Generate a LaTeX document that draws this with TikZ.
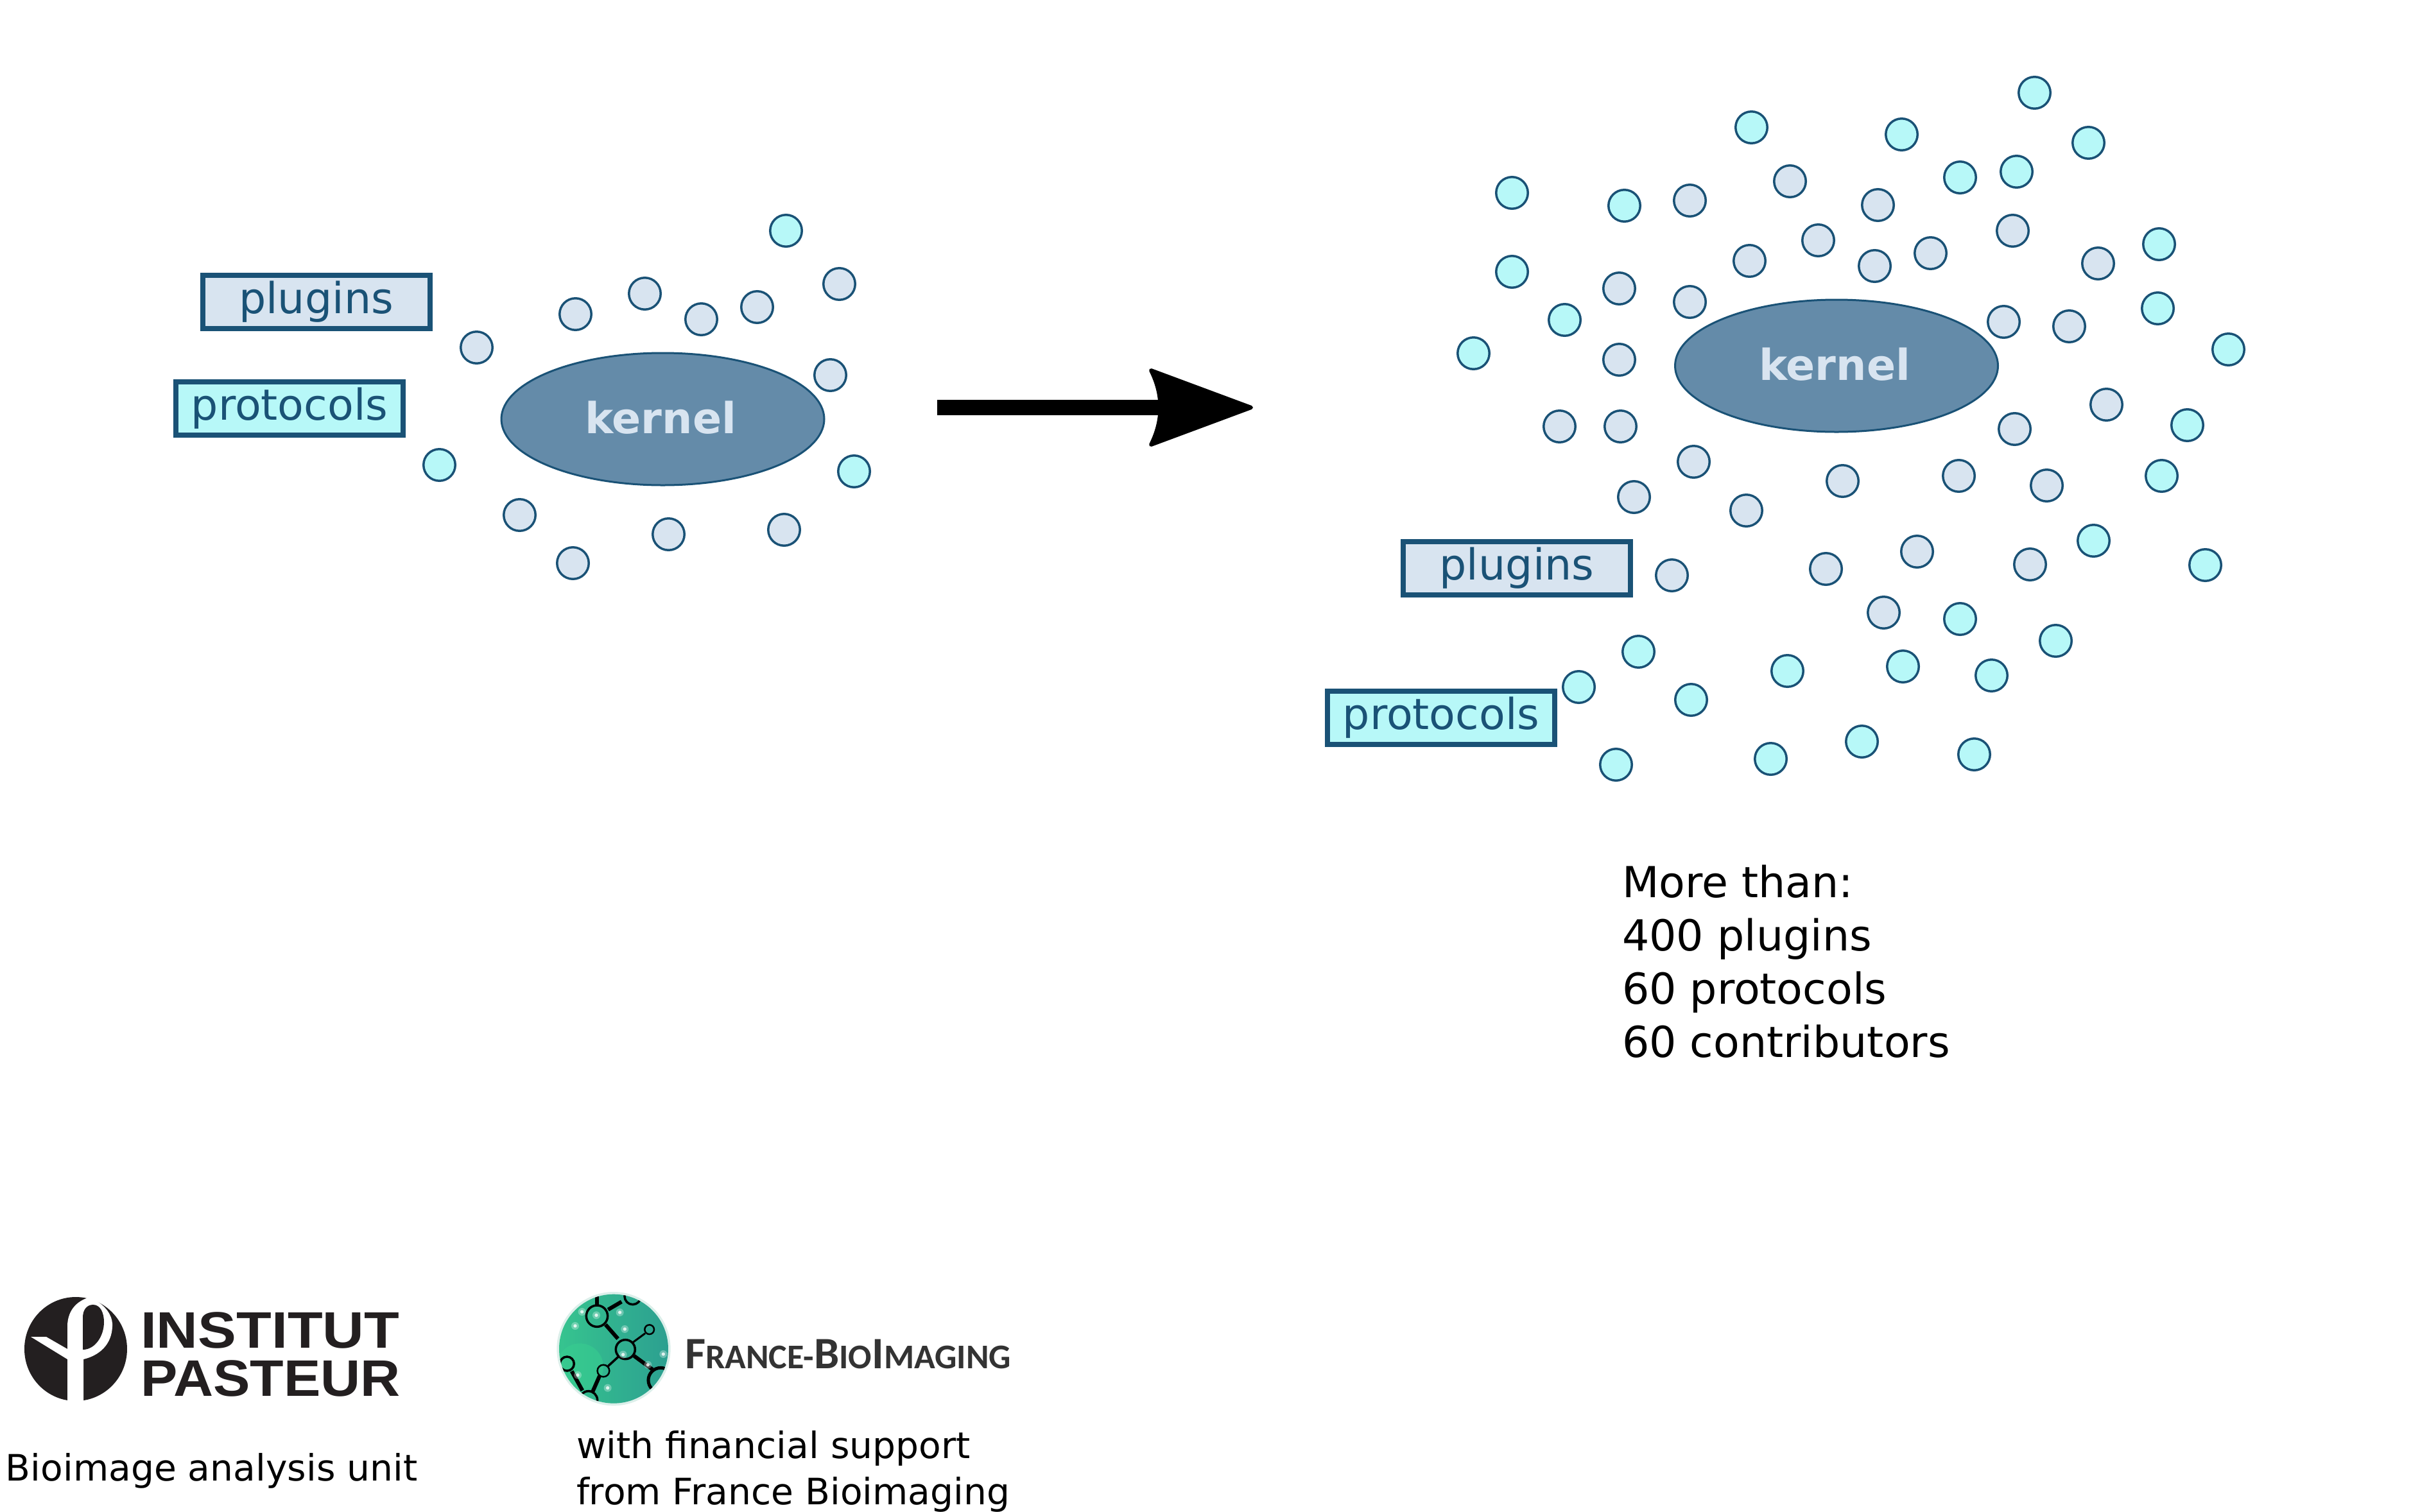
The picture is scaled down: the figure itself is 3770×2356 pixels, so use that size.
\documentclass[tikz,border=0pt]{standalone}
\usepackage{fontspec}
\setmainfont{DejaVu Sans}
\newfontfamily\logofont{Liberation Sans}[BoldFont={Liberation Sans Bold}]
\newfontfamily\fbifont{Carlito}[BoldFont={Carlito Bold}]
\usetikzlibrary{arrows.meta,shapes.geometric}
\definecolor{plugfill}{HTML}{D8E4F0}
\definecolor{protfill}{HTML}{B7F8F8}
\definecolor{edgeblue}{HTML}{1A5276}
\definecolor{kernfill}{HTML}{648BA9}
\definecolor{pasteurdark}{HTML}{231F20}
\definecolor{fbitext}{HTML}{333333}
\definecolor{fbileft}{HTML}{36C48F}
\definecolor{fbiright}{HTML}{2C9F90}
\definecolor{fbipatch}{HTML}{38CF90}
\definecolor{fbiedge}{HTML}{DCEFEA}
\pgfdeclarearrow{
  name=CurvedHead,
  setup code={\pgfarrowssettipend{0pt}\pgfarrowssetlineend{-135pt}\pgfarrowssetvisualbackend{-165pt}\pgfarrowssetbackend{-165pt}},
  drawing code={
    \pgfsetlinewidth{6pt}\pgfsetroundjoin\pgfsetdash{}{0pt}
    \pgfpathmoveto{\pgfpoint{-5pt}{0pt}}
    \pgfpathlineto{\pgfpoint{-161pt}{58pt}}
    \pgfpathquadraticcurveto{\pgfpoint{-132pt}{0pt}}{\pgfpoint{-161pt}{-58pt}}
    \pgfpathclose
    \pgfusepathqfillstroke
  }
}
\tikzset{
  plugdot/.style={circle,draw=edgeblue,fill=plugfill,line width=3.5pt,minimum size=49.5pt,inner sep=0pt},
  protdot/.style={circle,draw=edgeblue,fill=protfill,line width=3.5pt,minimum size=49.5pt,inner sep=0pt},
  kernelnode/.style={ellipse,draw=edgeblue,fill=kernfill,line width=3pt,minimum width=503pt,minimum height=206pt,inner sep=0pt},
  kerneltext/.style={text=plugfill,font=\fontsize{66.6}{80}\selectfont\bfseries},
  plugbox/.style={rectangle,draw=edgeblue,fill=plugfill,line width=8pt,minimum width=354pt,minimum height=83pt,inner sep=0pt,text=edgeblue,font=\fontsize{66.6}{80}\selectfont},
  protbox/.style={plugbox,fill=protfill},
  plain/.style={inner sep=0pt,outer sep=0pt,text=black},
  bondline/.style={draw=black,line width=6pt},
  ringline/.style={draw=black,line width=3.5pt},
  sparkle/.style={fill=white,opacity=.8},
  sparklehalo/.style={fill=white,opacity=.3},
}
\begin{document}
\begin{tikzpicture}[x=1pt,y=-1pt]
\useasboundingbox (0,0) rectangle (3770,2356);

% ---- left cluster
\node[kernelnode] (kernelA) at (1032.5,653) {};
\node[kerneltext,anchor=center] (kernelAtext) at (1029,651) {kernel};
\node[plugbox] (plugA) at (492.5,470) {plugins};
\node[protbox] (protA) at (451,636) {protocols};
\foreach \x/\y [count=\i] in {742/541,896/489,1004/457,1092/497,1179/478,1307/442,1293/584,809/802,892/877,1041/832,1221/825}
  \node[plugdot] (la\i) at (\x+.5,\y+.5) {};
\foreach \x/\y [count=\i] in {1224/359,684/724,1330/734}
  \node[protdot] (lb\i) at (\x+.5,\y+.5) {};

% ---- arrow
\coordinate (arrowstart) at (1460,635);
\coordinate (arrowend) at (1954,635);
\draw[line width=24pt,black,-{CurvedHead}] (arrowstart) -- (arrowend);

% ---- right cluster
\node[kernelnode] (kernelB) at (2861,570) {};
\node[kerneltext,anchor=center] (kernelBtext) at (2858,568) {kernel};
\node[plugbox] (plugB) at (2363,885) {plugins};
\node[protbox] (protB) at (2245,1118.5) {protocols};
\foreach \x/\y [count=\i] in {2632/312,2788/282,2925/319,3135/359,2832/374,2725/406,2920/414,3007/394,3268/410,2522/449,2632/470,3121/501,3223/508,2522/560,2429/664,2524/664,3281/630,3138/668,2638/719,2545/774,2720/795,2870/749,3051/741,3188/756,2604/896,2844/886,2986/859,3162/879,2934/954}
  \node[plugdot] (ra\i) at (\x+.5,\y+.5) {};
\foreach \x/\y [count=\i] in {3169/144,2728/198,2962/209,3253/222,3053/276,3141/267,2355/300,2530/320,3363/380,2355/423,2437/498,3361/480,2295/550,3471/544,3407/662,3367/741,3261/842,3435/880,3053/964,3202/998,2552/1015,2459/1070,2634/1090,2784/1045,2964/1038,3102/1052,2517/1191,2758/1182,2900/1155,3075/1175}
  \node[protdot] (rb\i) at (\x+.5,\y+.5) {};

\node[plain,anchor=north west,align=left,font=\fontsize{66.6}{83}\selectfont] (stats) at (2527,1348)
  {More than:\\400 plugins\\60 protocols\\60 contributors};

% ---- Institut Pasteur logo
\fill[pasteurdark] (118,2102) ellipse [x radius=80,y radius=81];
\fill[white] (105,2186) -- (105,2118) -- (48,2083) -- (72,2083) -- (105,2102) -- (105,2067)
  .. controls (105,2040) and (122,2024) .. (146,2020) -- (152,2028)
  .. controls (170,2040) and (176,2055) .. (175,2067)
  .. controls (174,2095) and (155,2112) .. (130,2118) -- (130,2186) -- cycle;
\fill[pasteurdark] (129,2103) -- (129,2053) .. controls (129,2040) and (136,2033) .. (145,2033)
  .. controls (156,2033) and (162,2045) .. (162,2060) .. controls (162,2082) and (148,2103) .. (129,2103) -- cycle;
\node[plain,anchor=base west,text=pasteurdark,xscale=1.12,font=\fontsize{80}{80}\selectfont\logofont\bfseries] (pasteurA) at (219,2100) {INSTITUT};
\node[plain,anchor=base west,text=pasteurdark,xscale=1.075,font=\fontsize{80}{80}\selectfont\logofont\bfseries] (pasteurB) at (219,2175) {PASTEUR};

\node[plain,anchor=base west,font=\fontsize{56.7}{71}\selectfont] (unit) at (9,2307) {Bioimage analysis unit};

% ---- France-BioImaging logo
\begin{scope}[shift={(820,1990)},x=0.3333pt,y=-0.3333pt]
  \fill[fbiedge] (408,335) circle [radius=266];
  \begin{scope}
    \clip (408,335) circle [radius=255];
    \shade[left color=fbileft,right color=fbiright] (150,70) rectangle (670,600);
    \fill[fbipatch,opacity=.55] (250,420) circle [radius=110];
    \draw[ringline] (330,182) circle [radius=50];
    \draw[ringline] (497,90) circle [radius=38];
    \draw[ringline] (463,338) circle [radius=45];
    \draw[ringline,line width=2.5pt] (575,245) circle [radius=22];
    \draw[ringline,line width=5pt] (628,482) circle [radius=58];
    \draw[ringline,line width=2.5pt] (360,438) circle [radius=28];
    \draw[ringline] (190,405) circle [radius=33];
    \draw[ringline] (290,575) circle [radius=42];
    \draw[bondline] (330,80) -- (330,132);
    \draw[bondline] (382,152) -- (445,115);
    \draw[bondline] (370,222) -- (428,288);
    \draw[bondline,line width=3pt] (498,305) -- (555,263);
    \draw[bondline] (503,368) -- (590,432);
    \draw[bondline,line width=3.5pt] (430,372) -- (382,416);
    \draw[bondline] (342,462) -- (310,535);
    \draw[bondline] (212,440) -- (262,530);
    \foreach \s in {(260,162),(327,178),(437,165),(460,243),(228,228),(640,360),(452,362),(380,518),(240,458),(568,410)} {
      \fill[sparklehalo] \s circle [radius=18];
      \fill[sparkle] \s circle [radius=8];
    }
  \end{scope}
\end{scope}
\node[plain,anchor=base west,text=fbitext,font=\fontsize{54}{54}\selectfont\fbifont\bfseries] (fbilogo) at (1067,2132)
  {{\fontsize{70}{70}\selectfont F}RANCE-{\fontsize{70}{70}\selectfont B}IO{\fontsize{70}{70}\selectfont I}MAGING};

\node[plain,anchor=north west,align=left,font=\fontsize{56.7}{72}\selectfont] (support) at (898,2229)
  {with financial support\\from France Bioimaging};
\end{tikzpicture}
\end{document}
